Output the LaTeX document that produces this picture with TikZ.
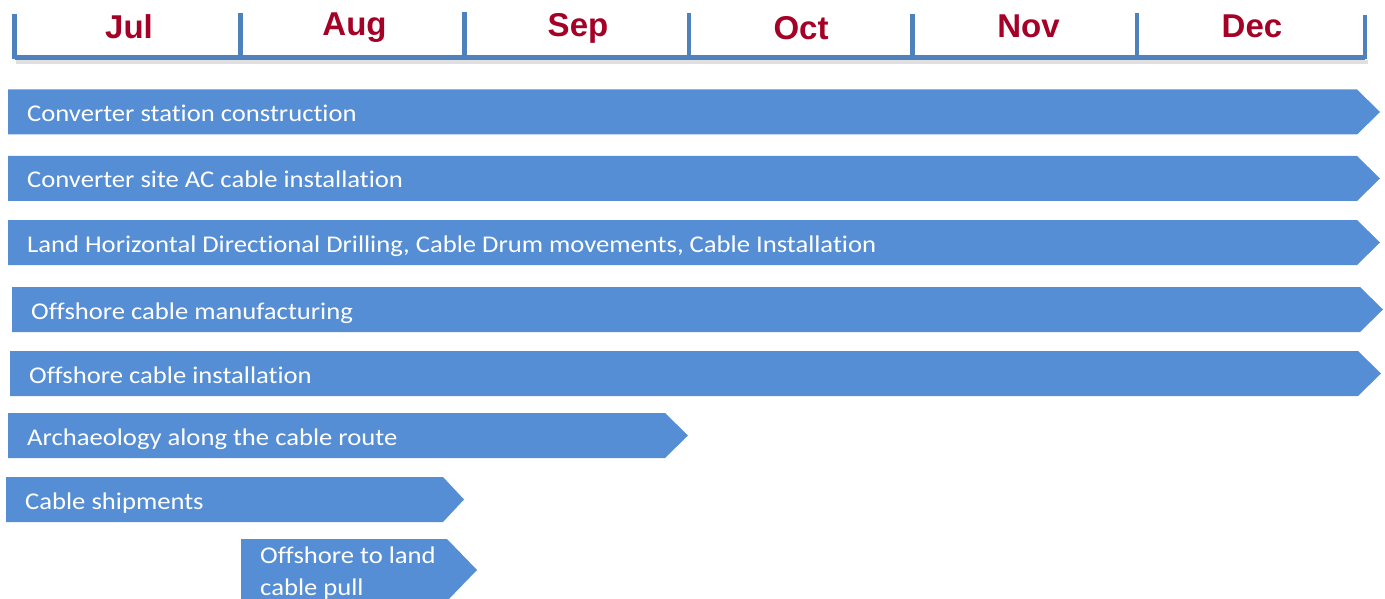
\documentclass[tikz,border=0pt]{standalone}
\usepackage{fontspec}
\setmainfont{Carlito}[FakeStretch=1.11, Ligatures={NoCommon}]
\newfontfamily\hdrfont{Liberation Sans}
\definecolor{barblue}{RGB}{85,142,213}
\definecolor{axisblue}{RGB}{79,129,189}
\definecolor{monthred}{RGB}{165,0,38}
\tikzset{
  barfill/.style={fill=barblue},
  bartext/.style={anchor=base west, inner sep=0pt, text=white, font=\fontsize{24}{32}\selectfont},
  month/.style={anchor=base, inner sep=0pt, text=monthred, font=\hdrfont\bfseries\fontsize{33}{33}\selectfont},
  axisline/.style={draw=axisblue, line width=4.5pt},
  axisshadow/.style={draw=black!12, line width=4pt},
}
\newcommand\ganttbar[6]{% left, top, bottom, shoulder, tip, mid
  \fill[barfill] (#1,#2) -- (#4,#2) -- (#5,#6) -- (#4,#3) -- (#1,#3) -- cycle;}
\begin{document}
\begin{tikzpicture}[x=1pt,y=-1pt]
\useasboundingbox (0,0) rectangle (1385,599);
% axis shadow
\draw[axisshadow] (16,62) -- (1368,62);
% axis
\coordinate (a0) at (14.5,57.5);
\coordinate (a1) at (1365,57.5);
\draw[axisline] (a0) -- (a1);
\foreach \x/\t [count=\i] in {14.5/14,240.5/13,464.5/12,689/13,912.5/14,1137/13,1365/15}{
  \coordinate (tt\i) at (\x,\t);
  \coordinate (tb\i) at (\x,59);
  \draw[axisline] (tt\i) -- (tb\i);
}
% months
\node[month] (jul) at (129,39) {Jul};
\node[month] (aug) at (354.5,36) {Aug};
\node[month] (sep) at (578,37) {Sep};
\node[month] (oct) at (801,40) {Oct};
\node[month] (nov) at (1028.5,38) {Nov};
\node[month] (dec) at (1252,38) {Dec};
% bars
\ganttbar{8}{89.5}{134.5}{1357}{1380}{112}
\node[bartext] (b1) at (27,121.5) {Converter station construction};
\ganttbar{8}{156}{201}{1357}{1380}{178.5}
\node[bartext] (b2) at (27,188) {Converter site AC cable installation};
\ganttbar{8}{220}{265}{1357}{1380}{242.5}
\node[bartext] (b3) at (27,252) {Land Horizontal Directional Drilling, Cable Drum movements, Cable Installation};
\ganttbar{12}{287}{332}{1360}{1383}{309.5}
\node[bartext] (b4) at (31,319) {Offshore cable manufacturing};
\ganttbar{10}{351}{396}{1358}{1381}{373.5}
\node[bartext] (b5) at (29,383) {Offshore cable installation};
\ganttbar{8}{413}{458}{665}{688}{435.5}
\node[bartext] (b6) at (27,445) {Archaeology along the cable route};
\ganttbar{6}{477}{522}{443}{464}{499.5}
\node[bartext] (b7) at (25,509) {Cable shipments};
\ganttbar{241}{539}{601}{447}{477}{570}
\node[bartext] (b8a) at (260,563) {Offshore to land};
\node[bartext] (b8b) at (260,595) {cable pull};
\end{tikzpicture}
\end{document}
